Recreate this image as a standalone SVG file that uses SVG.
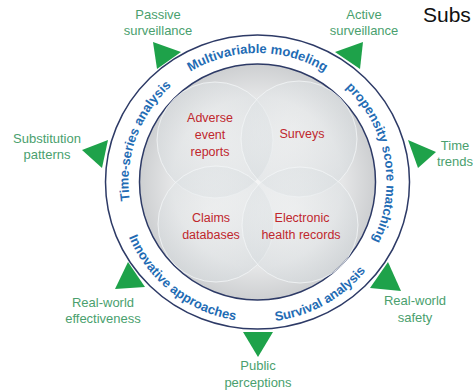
<svg xmlns="http://www.w3.org/2000/svg" width="473" height="391" viewBox="0 0 473 391">
<style>
.lbl{font-family:"Liberation Sans",Arial,sans-serif;font-size:13px;fill:#4a9f6e;text-anchor:middle}
.src{font-family:"Liberation Sans",Arial,sans-serif;font-size:12.5px;fill:#c0272d;text-anchor:middle}
.ring{font-family:"Liberation Sans",Arial,sans-serif;font-size:13px;font-weight:bold;fill:#1f6cb4}
.tri{fill:#1ea24a}
.blob{fill:url(#blobG);stroke:#f4f6f7;stroke-opacity:0.8;stroke-width:1}
</style>
<defs>
<radialGradient id="diskG" cx="50%" cy="50%" r="50%">
<stop offset="0" stop-color="#f4f4f4"/>
<stop offset="0.72" stop-color="#e5e6e7"/>
<stop offset="1" stop-color="#cdcfd1"/>
</radialGradient>
<radialGradient id="blobG" cx="45%" cy="40%" r="60%">
<stop offset="0" stop-color="#eef1f2" stop-opacity="0.35"/>
<stop offset="1" stop-color="#d6dbde" stop-opacity="0.55"/>
</radialGradient>
<path id="pTop" d="M145.8,117.5 A129,129 0 0,1 369.2,117.5"/>
<path id="pRight" d="M301.6,60.8 A129,129 0 0,1 340.4,280.8"/>
<path id="pLeft" d="M158.7,264.9 A129,129 0 0,1 235.1,54.9"/>
<path id="pBR" d="M185.4,302 A140,140 0 0,0 397.5,184.4"/>
<path id="pBL" d="M118.9,162.5 A140,140 0 0,0 310,311.8"/>
</defs>
<rect width="473" height="391" fill="#ffffff"/>
<g id="ring">
<ellipse cx="257.5" cy="182" rx="152" ry="147" fill="#ffffff" stroke="#2d3a66" stroke-width="1.5"/>
<circle cx="257.5" cy="182" r="118" fill="url(#diskG)" stroke="#2d3a66" stroke-width="1.5"/>
<text class="ring"><textPath href="#pTop" startOffset="50%" text-anchor="middle">Multivariable modeling</textPath></text>
<text class="ring"><textPath href="#pRight" startOffset="50%" text-anchor="middle">propensity score matching</textPath></text>
<text class="ring"><textPath href="#pLeft" startOffset="50%" text-anchor="middle">Time-series analysis</textPath></text>
<text class="ring"><textPath href="#pBR" startOffset="50%" text-anchor="middle">Survival analysis</textPath></text>
<text class="ring"><textPath href="#pBL" startOffset="50%" text-anchor="middle">Innovative approaches</textPath></text>
</g>
<g id="adverse-event-reports">
<circle class="blob" cx="215" cy="140" r="58"/>
</g>
<g id="surveys">
<circle class="blob" cx="299" cy="139" r="58"/>
</g>
<g id="claims-databases">
<circle class="blob" cx="216" cy="224" r="58"/>
</g>
<g id="electronic-health-records">
<circle class="blob" cx="300" cy="225" r="58"/>
</g>
<g id="source-texts">
<text class="src" x="210" y="122">Adverse</text>
<text class="src" x="210" y="139">event</text>
<text class="src" x="210" y="156">reports</text>
<text class="src" x="302" y="138">Surveys</text>
<text class="src" x="211" y="222">Claims</text>
<text class="src" x="211" y="239">databases</text>
<text class="src" x="302" y="222">Electronic</text>
<text class="src" x="301" y="239">health records</text>
</g>
<g id="connectors">
<polygon class="tri" points="153,42 181,52 157,69"/>
<polygon class="tri" points="335,52 363,42 360,69"/>
<polygon class="tri" points="408,140 436,152 418,168"/>
<polygon class="tri" points="388,262 370,288 401,291"/>
<polygon class="tri" points="243,332 273,332 258,357"/>
<polygon class="tri" points="128,262 115,289 145,287"/>
<polygon class="tri" points="82,150 108,140 102,168"/>
</g>
<g id="passive-surveillance">
<text class="lbl" x="158" y="19">Passive</text>
<text class="lbl" x="158" y="35">surveillance</text>
</g>
<g id="active-surveillance">
<text class="lbl" x="364" y="19">Active</text>
<text class="lbl" x="364" y="35">surveillance</text>
</g>
<g id="time-trends">
<text class="lbl" x="455" y="150">Time</text>
<text class="lbl" x="455" y="166">trends</text>
</g>
<g id="real-world-safety">
<text class="lbl" x="415" y="305">Real-world</text>
<text class="lbl" x="415" y="322">safety</text>
</g>
<g id="public-perceptions">
<text class="lbl" x="258" y="370">Public</text>
<text class="lbl" x="258" y="387">perceptions</text>
</g>
<g id="real-world-effectiveness">
<text class="lbl" x="103" y="307">Real-world</text>
<text class="lbl" x="103" y="323">effectiveness</text>
</g>
<g id="substitution-patterns">
<text class="lbl" x="47" y="143">Substitution</text>
<text class="lbl" x="47" y="159">patterns</text>
</g>
<g id="subs">
<text x="423" y="22" style="font-family:'Liberation Sans',Arial,sans-serif;font-size:21px;fill:#111111">Subs</text>
</g>
</svg>
